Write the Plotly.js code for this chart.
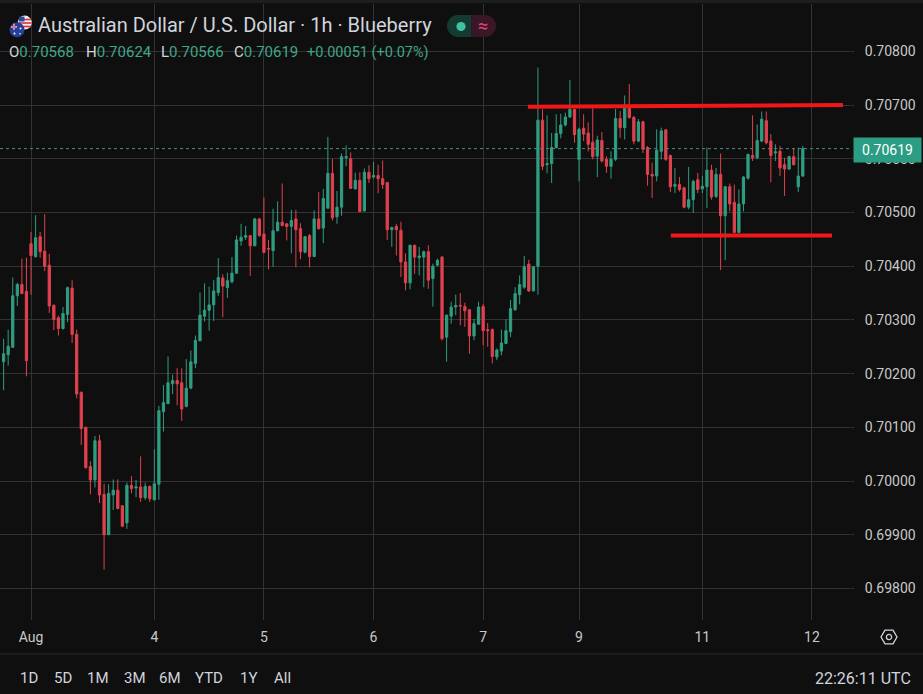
<!DOCTYPE html>
<html><head><meta charset="utf-8">
<script src="https://cdn.plot.ly/plotly-3.0.1.min.js"></script>
<style>html,body{margin:0;padding:0;background:#0f0f0f;overflow:hidden}#chart{width:923px;height:694px}</style>
</head><body><div id="chart"></div>
<script>
// ---------------- data ----------------
const symbolTitle = "Australian Dollar / U.S. Dollar · 1h · Blueberry";
const firstCandleTime = "2026-07-31 15:00";   // hourly candles, forex week (closed Fri 21:00 – Sun 21:00 UTC)

const open = [
.70222,.70235,.70249,.70345,.70366,.70353,.70442,.70418,.70455,.70428,
.70402,.70327,.70304,.70284,.70310,.70359,.70273,.70165,.70100,.70027,
.70002,.70075,.69975,.69900,.69974,.69983,.69954,.69922,.69992,.69987,
.69989,.69969,.69990,.69965,.69994,.70129,.70144,.70181,.70187,.70183,
.70139,.70173,.70219,.70261,.70307,.70318,.70328,.70351,.70378,.70360,
.70371,.70387,.70447,.70454,.70457,.70438,.70488,.70460,.70433,.70429,
.70466,.70482,.70479,.70474,.70488,.70470,.70426,.70457,.70418,.70488,
.70471,.70508,.70573,.70492,.70510,.70602,.70600,.70544,.70560,.70503,
.70575,.70566,.70569,.70563,.70556,.70468,.70474,.70467,.70408,.70369,
.70439,.70416,.70417,.70427,.70377,.70402,.70417,.70268,.70307,.70324,
.70327,.70325,.70319,.70270,.70292,.70325,.70282,.70282,.70231,.70242,
.70256,.70278,.70319,.70347,.70361,.70404,.70354,.70400,.70672,.70589,
.70591,.70621,.70647,.70663,.70678,.70692,.70599,.70657,.70648,.70631,
.70605,.70634,.70599,.70586,.70599,.70675,.70658,.70694,.70677,.70633,
.70669,.70621,.70571,.70568,.70614,.70654,.70606,.70549,.70552,.70546,
.70510,.70524,.70561,.70544,.70548,.70579,.70530,.70571,.70494,.70548,
.70519,.70463,.70516,.70564,.70606,.70602,.70633,.70671,.70633,.70611,
.70614,.70589,.70581,.70604,.70548,.70568];

const high = [
.70265,.70282,.70379,.70369,.70414,.70416,.70464,.70495,.70464,.70497,
.70423,.70329,.70308,.70324,.70362,.70374,.70282,.70167,.70101,.70037,
.70084,.70086,.69995,.69994,.70003,.70003,.69955,.69997,.70009,.70002,
.70046,.69997,.69992,.70059,.70140,.70179,.70232,.70198,.70210,.70210,
.70227,.70243,.70271,.70351,.70368,.70362,.70374,.70415,.70385,.70388,
.70417,.70457,.70479,.70475,.70457,.70490,.70490,.70528,.70449,.70507,
.70521,.70554,.70480,.70505,.70505,.70480,.70456,.70460,.70504,.70538,
.70544,.70641,.70600,.70540,.70610,.70625,.70612,.70574,.70575,.70582,
.70588,.70594,.70589,.70597,.70556,.70474,.70479,.70483,.70424,.70440,
.70440,.70436,.70429,.70439,.70405,.70414,.70419,.70309,.70334,.70347,
.70350,.70332,.70319,.70302,.70334,.70330,.70294,.70284,.70247,.70282,
.70301,.70337,.70361,.70383,.70419,.70412,.70400,.70770,.70692,.70681,
.70648,.70683,.70684,.70686,.70747,.70693,.70658,.70683,.70668,.70694,
.70643,.70650,.70605,.70614,.70693,.70689,.70718,.70739,.70680,.70674,
.70671,.70624,.70593,.70655,.70658,.70655,.70608,.70583,.70566,.70548,
.70585,.70561,.70574,.70568,.70621,.70589,.70583,.70610,.70549,.70554,
.70552,.70543,.70568,.70610,.70681,.70664,.70688,.70688,.70646,.70627,
.70624,.70602,.70606,.70619,.70621,.70624];

const low = [
.70169,.70215,.70248,.70326,.70349,.70195,.70347,.70416,.70416,.70391,
.70313,.70281,.70271,.70282,.70296,.70257,.70154,.70067,.70023,.69975,
.69988,.69959,.69835,.69900,.69946,.69947,.69914,.69911,.69977,.69970,
.69961,.69965,.69961,.69964,.69965,.70092,.70144,.70162,.70141,.70112,
.70137,.70171,.70210,.70261,.70297,.70280,.70298,.70345,.70305,.70341,
.70368,.70387,.70438,.70449,.70382,.70438,.70455,.70424,.70394,.70399,
.70465,.70474,.70448,.70424,.70398,.70413,.70424,.70398,.70417,.70468,
.70443,.70508,.70485,.70479,.70494,.70586,.70544,.70543,.70500,.70502,
.70555,.70563,.70536,.70544,.70449,.70436,.70420,.70380,.70355,.70357,
.70386,.70383,.70361,.70358,.70325,.70400,.70262,.70222,.70293,.70309,
.70290,.70287,.70237,.70262,.70292,.70253,.70250,.70219,.70225,.70234,
.70255,.70268,.70317,.70329,.70358,.70352,.70353,.70347,.70579,.70573,
.70555,.70619,.70638,.70660,.70676,.70630,.70558,.70633,.70614,.70599,
.70566,.70593,.70574,.70563,.70596,.70639,.70636,.70675,.70627,.70631,
.70611,.70550,.70527,.70558,.70599,.70596,.70538,.70536,.70539,.70508,
.70506,.70499,.70536,.70536,.70508,.70524,.70527,.70393,.70411,.70502,
.70461,.70461,.70502,.70561,.70596,.70599,.70631,.70627,.70556,.70596,
.70568,.70531,.70579,.70588,.70538,.70566];

const close = [
.70237,.70251,.70345,.70366,.70349,.70224,.70420,.70453,.70427,.70400,
.70326,.70301,.70284,.70312,.70360,.70273,.70162,.70098,.70025,.70002,
.70075,.69974,.69900,.69977,.69983,.69949,.69916,.69992,.69986,.69989,
.69969,.69990,.69967,.69995,.70131,.70146,.70183,.70187,.70181,.70134,
.70173,.70222,.70262,.70309,.70318,.70328,.70354,.70379,.70363,.70373,
.70387,.70449,.70454,.70457,.70438,.70488,.70457,.70426,.70432,.70466,
.70482,.70476,.70474,.70485,.70468,.70427,.70455,.70418,.70488,.70470,
.70526,.70573,.70490,.70510,.70604,.70604,.70545,.70560,.70502,.70575,
.70563,.70569,.70563,.70552,.70468,.70472,.70468,.70408,.70369,.70439,
.70417,.70419,.70427,.70374,.70400,.70411,.70265,.70309,.70324,.70327,
.70326,.70317,.70270,.70293,.70324,.70280,.70280,.70232,.70244,.70257,
.70280,.70321,.70349,.70366,.70399,.70354,.70399,.70672,.70586,.70591,
.70621,.70647,.70663,.70678,.70692,.70645,.70655,.70646,.70627,.70604,
.70635,.70596,.70586,.70599,.70675,.70658,.70694,.70677,.70633,.70669,
.70618,.70571,.70568,.70616,.70652,.70599,.70548,.70552,.70543,.70510,
.70524,.70558,.70543,.70549,.70579,.70529,.70571,.70494,.70548,.70516,
.70463,.70516,.70566,.70608,.70602,.70634,.70674,.70630,.70606,.70613,
.70583,.70581,.70604,.70589,.70568,.70619];

const tickTimes  = ["2026-08-02 21:00","2026-08-04 00:00","2026-08-05 00:00","2026-08-06 00:00",
                    "2026-08-07 00:00","2026-08-09 21:00","2026-08-11 00:00","2026-08-12 00:00"];
const tickLabels = ["Aug","4","5","6","7","9","11","12"];

// user-drawn horizontal levels (red lines)
const levelStart = ["2026-08-07 09:48","2026-08-10 17:06"];
const levelEnd   = ["2026-08-12 06:48","2026-08-12 04:24"];
const levelFrom  = [0.70697, 0.70457];
const levelTo    = [0.70700, 0.70457];

const rangeButtons = ["1D","5D","1M","3M","6M","YTD","1Y","All"];
const clockText = "22:26:11 UTC";

// ---------------- helpers ----------------
const HOUR = 3600000;
const toMs = s => Date.parse(s.replace(' ','T') + ':00Z');
const T0 = toMs(firstCandleTime);
function isOpen(ms){const d=new Date(ms),w=d.getUTCDay(),h=d.getUTCHours();
  return !((w===5&&h>=21)||w===6||(w===0&&h<21));}
function slotOf(s){const target=toMs(s);let n=0,t=T0;
  while(t+HOUR<=target){if(isOpen(t))n++;t+=HOUR;}
  return n+(target-t)/HOUR;}
const idx = open.map((_,i)=>i);
const times = []; {let t=T0; while(times.length<open.length){if(isOpen(t))times.push(new Date(t).toISOString().slice(0,16).replace('T',' '));t+=HOUR;}}

// plot geometry (pixels)
const PL=0, PR=850, PT=4, PB=620;
const PX = x => (x-PL)/(PR-PL), PY = y => (PB-y)/(PB-PT);
const FONT = "Roboto, 'Noto Sans', sans-serif";
const UP = "#2f9e80", DOWN = "#e0424e";

function rectPx(x0,y0,x1,y1,fill){return {type:'rect',xref:'paper',yref:'paper',x0:PX(x0),x1:PX(x1),y0:PY(y1),y1:PY(y0),fillcolor:fill,line:{width:0},layer:'above'};}
function circPx(cx,cy,r,fill){return {type:'circle',xref:'paper',yref:'paper',x0:PX(cx-r),x1:PX(cx+r),y0:PY(cy+r),y1:PY(cy-r),fillcolor:fill,line:{width:0},layer:'above'};}
function linePx(x0,y0,x1,y1,color,w){return {type:'line',xref:'paper',yref:'paper',x0:PX(x0),x1:PX(x1),y0:PY(y0),y1:PY(y1),line:{color:color,width:w},layer:'above'};}
function textPx(x,y,text,size,color,anchor){return {xref:'paper',yref:'paper',x:PX(x),y:PY(y),text:text,showarrow:false,
  xanchor:anchor||'left',yanchor:'middle',font:{family:FONT,size:size,color:color}};}

// ---------------- traces ----------------
const trace = {
  type:'candlestick', x:idx, open:open, high:high, low:low, close:close,
  text: times, hoverinfo:'text',
  increasing:{line:{color:UP,width:1},fillcolor:UP},
  decreasing:{line:{color:DOWN,width:1},fillcolor:DOWN},
  whiskerwidth:0
};

const n = close.length;
const lastO=open[n-1], lastH=high[n-1], lastL=low[n-1], lastC=close[n-1];
const chg = lastC - close[n-2];
const pct = chg/close[n-2]*100;

// ---------------- shapes ----------------
const shapes = [];
shapes.push(rectPx(0,0,923,3,'#1e1e1e'));
// current price dotted line
shapes.push({type:'line',xref:'paper',x0:0,x1:1,yref:'y',y0:lastC,y1:lastC,line:{color:'#4a8c7e',width:1,dash:'dot'},layer:'above'});
// red levels
for(let i=0;i<levelStart.length;i++){
  shapes.push({type:'line',xref:'x',yref:'y',x0:slotOf(levelStart[i]),x1:slotOf(levelEnd[i]),y0:levelFrom[i],y1:levelTo[i],
    line:{color:'#f21616',width:4},layer:'above'});
}
// flags
shapes.push(circPx(24.8,22.6,7,'#eeeeee'));
shapes.push(linePx(19,19.5,30.8,19.5,'#d8303c',1.6));
shapes.push(linePx(18.2,23,31.6,23,'#d8303c',1.6));
shapes.push(linePx(19,26.5,30.8,26.5,'#d8303c',1.6));
shapes.push(rectPx(19,16.6,24.5,21.5,'#2a4aa0'));
shapes.push(circPx(17,29.8,7.5,'#26409a'));
shapes.push(linePx(11,26.8,17,26.8,'#ffffff',1.4));
shapes.push(linePx(14,23.8,14,29.8,'#ffffff',1.4));
shapes.push(linePx(11.3,26.8,16.7,26.8,'#d8303c',0.8));
shapes.push(linePx(14,24.1,14,29.5,'#d8303c',0.8));
shapes.push(circPx(20.5,28.5,0.9,'#ffffff'));
shapes.push(circPx(14.5,33.5,1.0,'#ffffff'));
shapes.push(circPx(20,33.8,0.8,'#ffffff'));
// badge
shapes.push(circPx(458,26,11,'#153a31'));
shapes.push(rectPx(458,15,471.5,37,'#153a31'));
shapes.push(rectPx(471.5,15,485,37,'#3a1726'));
shapes.push(circPx(485,26,11,'#3a1726'));
shapes.push(circPx(461,26.5,4.6,'#3fc2a4'));
// bottom separator
shapes.push(linePx(0,654,923,654,'#2a2a2a',1));
// hexagon settings icon
{const cx=889,cy=637,r=8;let p='';
 for(let a=0;a<6;a++){const ang=a*Math.PI/3;const x=cx+r*Math.cos(ang),y=cy+r*Math.sin(ang);p+=(a?'L':'M')+PX(x)+','+PY(y);}
 p+='Z';
 shapes.push({type:'path',xref:'paper',yref:'paper',path:p,line:{color:'#d1d4dc',width:1.3},fillcolor:'rgba(0,0,0,0)',layer:'above'});
 shapes.push({type:'circle',xref:'paper',yref:'paper',x0:PX(cx-2.6),x1:PX(cx+2.6),y0:PY(cy+2.6),y1:PY(cy-2.6),line:{color:'#d1d4dc',width:1.3},layer:'above'});
}

// ---------------- annotations ----------------
const GRAYTXT = '#d1d4dc', GREENTXT = '#3fa68b';
const ann = [];
ann.push(textPx(36,25.5,symbolTitle,20,GRAYTXT));
ann.push(textPx(483,25.5,'≈',18,'#e8457f','center'));
const ohlc = [['O',lastO.toFixed(5)],['H',lastH.toFixed(5)],['L',lastL.toFixed(5)],['C',lastC.toFixed(5)]];
const ohlcX = [7,84,159,232];
ohlc.forEach((it,i)=>ann.push(textPx(ohlcX[i],52,'<span style="color:'+GRAYTXT+'">'+it[0]+'</span>'+it[1],15,GREENTXT)));
ann.push(textPx(305,52,(chg>=0?'+':'')+chg.toFixed(5)+' ('+(pct>=0?'+':'')+pct.toFixed(2)+'%)',14.5,GREENTXT));
// last price label on axis
ann.push({xref:'paper',yref:'y',x:1,y:lastC,xanchor:'left',yanchor:'middle',xshift:2.5,yshift:-1,
  text:lastC.toFixed(5),showarrow:false,bgcolor:'#2a9d84',width:65,height:22,
  font:{family:FONT,size:14,color:'#ffffff'}});
// range buttons
const btnX=[17.6,51.8,85,122,156.5,193,238,272];
rangeButtons.forEach((b,i)=>ann.push(textPx(btnX[i],678,b,15,GRAYTXT)));
ann.push(textPx(913,678,clockText,16,GRAYTXT,'right'));

// ---------------- layout ----------------
const layout = {
  width:923, height:694,
  margin:{l:PL,r:923-PR,t:PT,b:694-PB,pad:0},
  paper_bgcolor:'#0f0f0f', plot_bgcolor:'#0f0f0f',
  showlegend:false, dragmode:false, hovermode:false,
  boxgap:0.3, boxgroupgap:0.3,
  xaxis:{
    type:'linear', range:[-0.79,185.33], rangeslider:{visible:false},
    tickmode:'array', tickvals:tickTimes.map(slotOf), ticktext:tickLabels,
    showgrid:true, gridcolor:'#333333', gridwidth:1, zeroline:false, showline:false,
    ticks:'', ticklabelstandoff:7,
    tickfont:{family:FONT,size:14,color:'#c8c8c8'}
  },
  yaxis:{
    side:'right', range:[0.697412,0.708883], tick0:0.698, dtick:0.001, tickformat:'.5f',
    showgrid:true, gridcolor:'#333333', gridwidth:1, zeroline:false, showline:false,
    ticks:'outside', ticklen:3, tickcolor:'#333333', ticklabelstandoff:8,
    tickfont:{family:FONT,size:14,color:'#c8c8c8'}
  },
  shapes:shapes, annotations:ann
};

Plotly.newPlot('chart',[trace],layout,{staticPlot:true,displayModeBar:false});
</script>
</body></html>
